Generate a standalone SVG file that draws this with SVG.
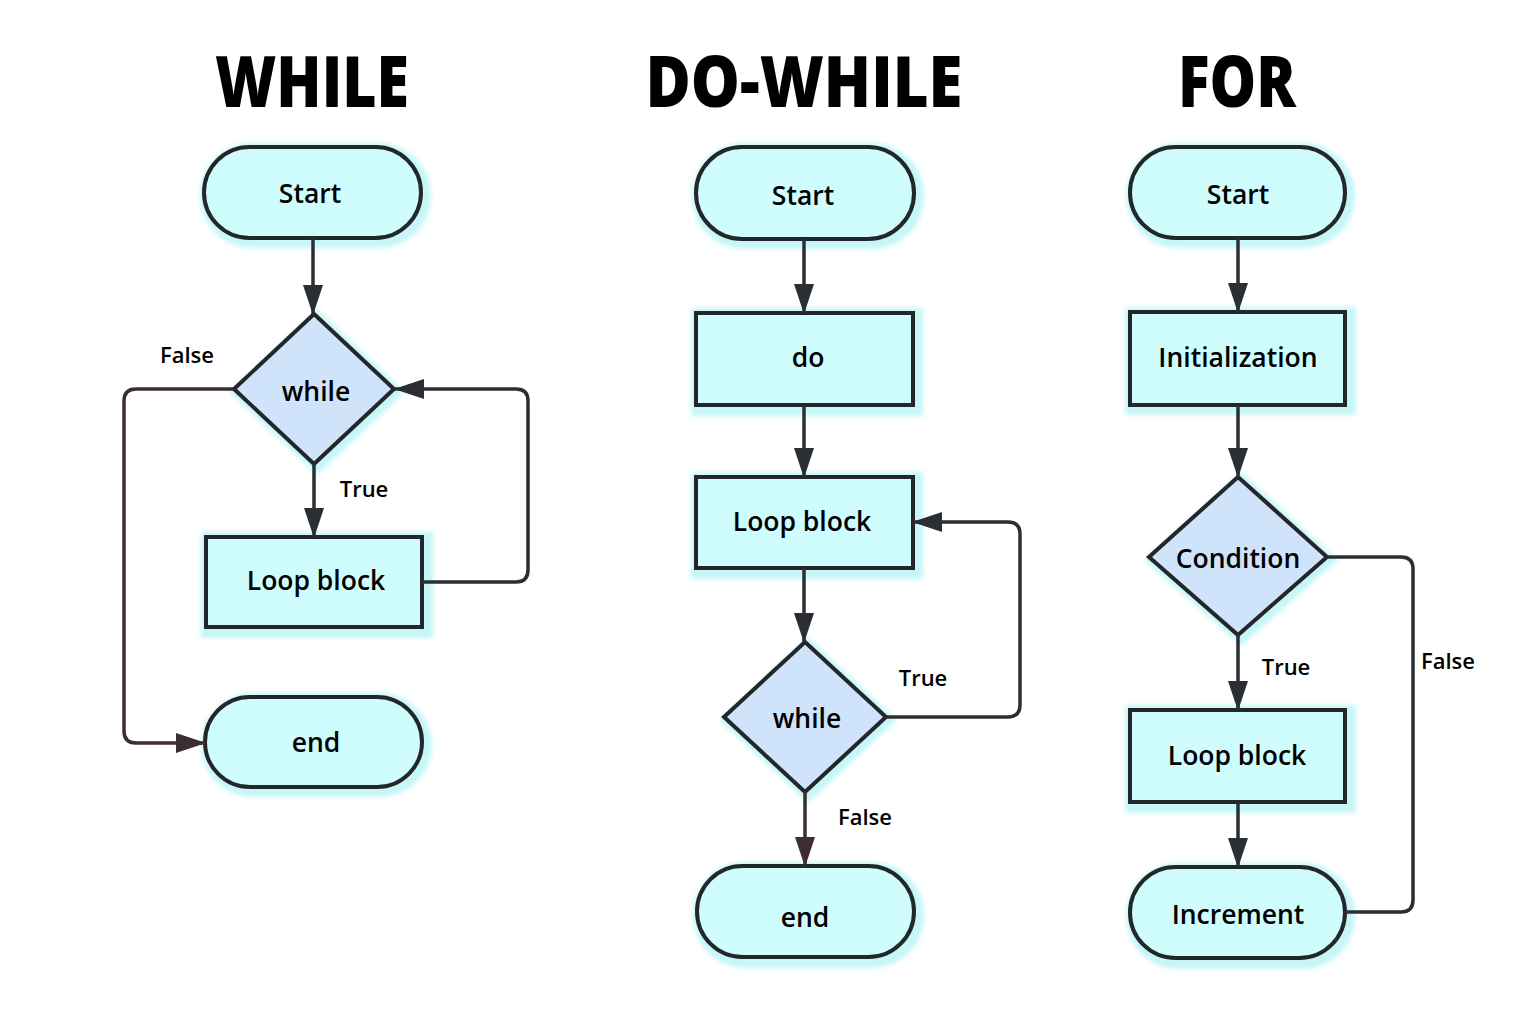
<svg xmlns="http://www.w3.org/2000/svg" width="1536" height="1024" viewBox="0 0 1536 1024">
<defs>
<marker id="ah" markerUnits="userSpaceOnUse" markerWidth="30" markerHeight="20" refX="29" refY="10" orient="auto">
<path d="M0,0 L30,10 L0,20 z" fill="#2b2f33"/>
</marker>
<marker id="ahb" markerUnits="userSpaceOnUse" markerWidth="30" markerHeight="20" refX="29" refY="10" orient="auto">
<path d="M0,0 L30,10 L0,20 z" fill="#3b2d30"/>
</marker>
<filter id="glow" x="-20%" y="-20%" width="140%" height="140%">
<feGaussianBlur stdDeviation="2"/>
</filter>
</defs>
<style>
.title{font-family:"Open Sans","Liberation Sans",sans-serif;font-weight:800;font-size:70px;fill:#000;text-anchor:middle}
.t{font-family:"Open Sans","Liberation Sans",sans-serif;font-weight:600;font-size:26.5px;fill:#000;text-anchor:middle;dominant-baseline:central}
.lbl{font-family:"Open Sans","Liberation Sans",sans-serif;font-weight:600;font-size:22px;fill:#000;text-anchor:middle;dominant-baseline:central}
.term{fill:#cffcfc;stroke:#24272a;stroke-width:4}
.box{fill:#cffcfc;stroke:#24272a;stroke-width:4}
.dia{fill:#cfe4fb;stroke:#24272a;stroke-width:4;stroke-linejoin:miter}
.halo{fill:#c6f6f8;filter:url(#glow)}
.c{fill:none;stroke:#2b2f33;stroke-width:3.5;stroke-linejoin:round}
.cb{fill:none;stroke:#3b2d30;stroke-width:3.5;stroke-linejoin:round}
</style>
<rect width="1536" height="1024" fill="#fff"/>

<text class="title" x="312" y="107" textLength="194" lengthAdjust="spacingAndGlyphs">WHILE</text>
<text class="title" x="804" y="107" textLength="317" lengthAdjust="spacingAndGlyphs">DO-WHILE</text>
<text class="title" x="1237" y="107" textLength="118" lengthAdjust="spacingAndGlyphs">FOR</text>

<g id="labels">
<text class="lbl" x="187" y="354">False</text>
<text class="lbl" x="364" y="488">True</text>
<text class="lbl" x="923" y="677">True</text>
<text class="lbl" x="865" y="816">False</text>
<text class="lbl" x="1286" y="666">True</text>
<text class="lbl" x="1448" y="660">False</text>
</g>

<!-- WHILE nodes -->
<g id="w-start">
<rect class="halo" x="200" y="143" width="231" height="105" rx="52"/>
<rect class="term" x="204" y="147" width="217" height="91" rx="45.5"/>
<text class="t" x="310" y="193">Start</text>
</g>
<g id="w-while">
<polygon class="halo" points="314,306 402,389 314,472 226,389" transform="translate(3,3)"/>
<polygon class="dia" points="314,314 394,389 314,464 234,389"/>
<text class="t" x="316" y="391">while</text>
</g>
<g id="w-loop">
<rect class="halo" x="201" y="532" width="232" height="106"/>
<rect class="box" x="206" y="537" width="216" height="90"/>
<text class="t" x="316" y="580">Loop block</text>
</g>
<g id="w-end">
<rect class="halo" x="201" y="693" width="231" height="104" rx="52"/>
<rect class="term" x="205" y="697" width="217" height="90" rx="45"/>
<text class="t" x="316" y="742">end</text>
</g>

<!-- DO-WHILE nodes -->
<g id="d-start">
<rect class="halo" x="692" y="143" width="232" height="106" rx="52"/>
<rect class="term" x="696" y="147" width="218" height="92" rx="46"/>
<text class="t" x="803" y="195">Start</text>
</g>
<g id="d-do">
<rect class="halo" x="691" y="308" width="232" height="108"/>
<rect class="box" x="696" y="313" width="217" height="92"/>
<text class="t" x="808" y="357">do</text>
</g>
<g id="d-loop">
<rect class="halo" x="691" y="472" width="232" height="107"/>
<rect class="box" x="696" y="477" width="217" height="91"/>
<text class="t" x="802" y="521">Loop block</text>
</g>
<g id="d-while">
<polygon class="halo" points="805,634 894,717 805,800 716,717" transform="translate(3,3)"/>
<polygon class="dia" points="805,642 886,717 805,792 724,717"/>
<text class="t" x="807" y="718">while</text>
</g>
<g id="d-end">
<rect class="halo" x="693" y="862" width="231" height="106" rx="52"/>
<rect class="term" x="697" y="866" width="217" height="91" rx="45.5"/>
<text class="t" x="805" y="917">end</text>
</g>

<!-- FOR nodes -->
<g id="f-start">
<rect class="halo" x="1126" y="143" width="229" height="105" rx="52"/>
<rect class="term" x="1130" y="147" width="215" height="91" rx="45.5"/>
<text class="t" x="1238" y="194">Start</text>
</g>
<g id="f-init">
<rect class="halo" x="1125" y="307" width="231" height="108"/>
<rect class="box" x="1130" y="312" width="215" height="93"/>
<text class="t" x="1238" y="357">Initialization</text>
</g>
<g id="f-cond">
<polygon class="halo" points="1238,469 1335,557 1238,643 1141,557" transform="translate(3,3)"/>
<polygon class="dia" points="1238,477 1327,557 1238,635 1149,557"/>
<text class="t" x="1238" y="558">Condition</text>
</g>
<g id="f-loop">
<rect class="halo" x="1125" y="705" width="231" height="108"/>
<rect class="box" x="1130" y="710" width="215" height="92"/>
<text class="t" x="1237" y="755">Loop block</text>
</g>
<g id="f-inc">
<rect class="halo" x="1126" y="863" width="229" height="106" rx="52"/>
<rect class="term" x="1130" y="867" width="215" height="91" rx="45.5"/>
<text class="t" x="1238" y="914">Increment</text>
</g>

<g id="connectors">
<!-- WHILE -->
<path class="c" d="M313,238 L313,314" marker-end="url(#ah)"/>
<path class="c" d="M314,464 L314,537" marker-end="url(#ah)"/>
<path class="c" d="M422,582 L516,582 Q528,582 528,570 L528,401 Q528,389 516,389 L395,389" marker-end="url(#ah)"/>
<path class="cb" d="M234,389 L136,389 Q124,389 124,401 L124,731 Q124,743 136,743 L205,743" marker-end="url(#ahb)"/>
<!-- DO-WHILE -->
<path class="c" d="M804,239 L804,313" marker-end="url(#ah)"/>
<path class="c" d="M804,405 L804,477" marker-end="url(#ah)"/>
<path class="c" d="M804,568 L804,642" marker-end="url(#ah)"/>
<path class="c" d="M886,717 L1008,717 Q1020,717 1020,705 L1020,534 Q1020,522 1008,522 L913,522" marker-end="url(#ah)"/>
<path class="cb" d="M805,792 L805,866" marker-end="url(#ahb)"/>
<!-- FOR -->
<path class="c" d="M1238,238 L1238,312" marker-end="url(#ah)"/>
<path class="c" d="M1238,405 L1238,477" marker-end="url(#ah)"/>
<path class="c" d="M1238,635 L1238,710" marker-end="url(#ah)"/>
<path class="c" d="M1238,802 L1238,867" marker-end="url(#ah)"/>
<path class="c" d="M1327,557 L1401,557 Q1413,557 1413,569 L1413,900 Q1413,912 1401,912 L1345,912"/>
</g>
</svg>
